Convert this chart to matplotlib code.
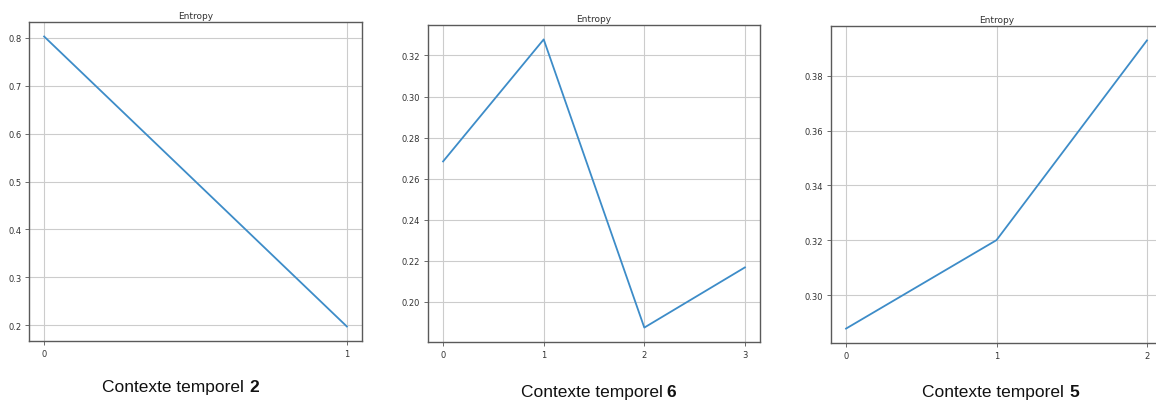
import matplotlib
matplotlib.use("Agg")
import matplotlib.pyplot as plt

W, H = 1156, 406

# Data
x1 = [0, 1]
y1 = [0.803, 0.197]
x2 = [0, 1, 2, 3]
y2 = [0.2684, 0.3278, 0.1875, 0.2168]
x3 = [0, 1, 2]
y3 = [0.2879, 0.3201, 0.3928]
titles = ["Entropy", "Entropy", "Entropy"]
captions = ["2", "6", "5"]
yticks1 = [0.2, 0.3, 0.4, 0.5, 0.6, 0.7, 0.8]
yticks2 = [0.20, 0.22, 0.24, 0.26, 0.28, 0.30, 0.32]
yticks3 = [0.30, 0.32, 0.34, 0.36, 0.38]

fig = plt.figure(figsize=(W / 100, H / 100), dpi=100)
fig.patch.set_facecolor("white")

# axes boxes in pixels: left, top, right, bottom
boxes = [(29, 23, 362, 342), (428, 26, 760, 343), (831, 27, 1162, 344)]
series = [(x1, y1, yticks1, "%.1f"), (x2, y2, yticks2, "%.2f"), (x3, y3, yticks3, "%.2f")]
cap_pos = [(244, 388, 5), (663, 393, 3), (1064, 393, 5)]

for (l, t, r, b), (xs, ys, yt, fmt), title, cap, (cx, cy, gap) in zip(boxes, series, titles, captions, cap_pos):
    ax = fig.add_axes([l / W, 1 - b / H, (r - l) / W, (b - t) / H])
    ax.plot(xs, ys, color="#3d8cc8", lw=1.3)
    ax.set_xticks(xs)
    ax.set_xticklabels([str(v) for v in xs])
    ax.set_yticks(yt)
    ax.set_yticklabels([fmt % v for v in yt])
    ax.grid(True, color="#cccccc", lw=0.8)
    ax.set_axisbelow(True)
    for s in ax.spines.values():
        s.set_color("#5a5a5a")
        s.set_linewidth(1.0)
    ax.tick_params(labelsize=6, labelcolor="#333333", color="#555555", length=3, width=0.6, pad=2.5)
    ax.set_title(title, fontsize=6.5, color="#333333", pad=3)
    fig.text(cx / W, 1 - cy / H, "Contexte temporel", fontsize=12.5, family="Liberation Sans",
             ha="right", va="center", color="#111111")
    fig.text((cx + gap) / W, 1 - cy / H, cap, fontsize=12.5, family="Liberation Sans", weight="bold",
             ha="left", va="center", color="#111111")

fig.savefig("out.png", dpi=100)
